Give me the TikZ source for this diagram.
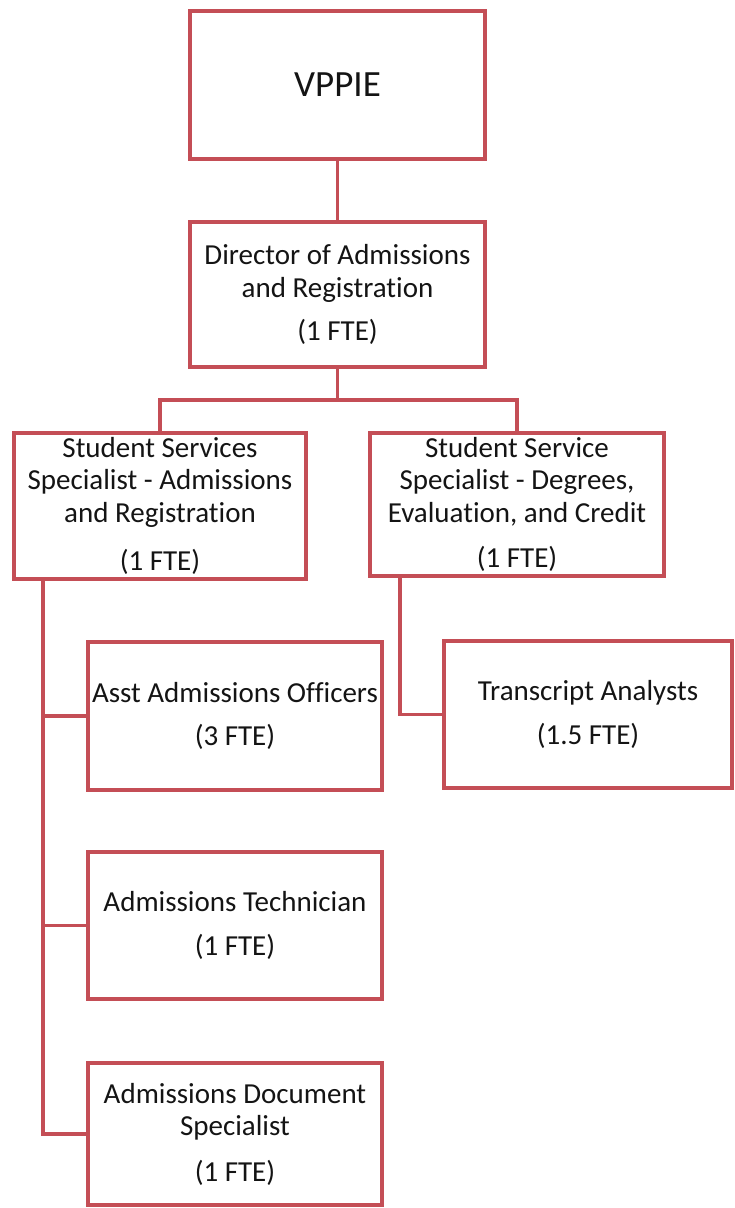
\documentclass[tikz,border=0pt]{standalone}
\usepackage{fontspec}
\setmainfont{Carlito}[Ligatures=NoCommon]
\definecolor{boxred}{RGB}{196,78,86}
\definecolor{txt}{RGB}{20,20,20}
\tikzset{
  orgbox/.style={draw=boxred, line width=3.5pt, rectangle, align=center, inner sep=0pt, outer sep=0pt, text=txt,
    font=\fontsize{29pt}{32.5pt}\selectfont},
  link/.style={draw=boxred, line width=3.5pt, line join=miter}
}
\begin{document}
\begin{tikzpicture}[x=1pt,y=-1pt]
\useasboundingbox (0,0) rectangle (735,1208);
\node[orgbox, minimum width=295pt, minimum height=148pt, font=\fontsize{37pt}{40pt}\selectfont] (vppie) at (337.5,85) {VPPIE};
\node[orgbox, minimum width=295pt, minimum height=145pt] (dir) at (337.5,294.5) {Director of Admissions\\and Registration\\[11pt](1 FTE)};
\node[orgbox, minimum width=292pt, minimum height=146pt] (ssa) at (160,506) {Student Services\\Specialist - Admissions\\and Registration\\[16pt](1 FTE)};
\node[orgbox, minimum width=294pt, minimum height=143pt] (ssd) at (517,504.5) {Student Service\\Specialist - Degrees,\\Evaluation, and Credit\\[13pt](1 FTE)};
\node[orgbox, minimum width=294pt, minimum height=148pt] (asst) at (235,716) {Asst Admissions Officers\\[11pt](3 FTE)};
\node[orgbox, minimum width=288pt, minimum height=147pt] (trans) at (588,714.5) {Transcript Analysts\\[12pt](1.5 FTE)};
\node[orgbox, minimum width=294pt, minimum height=147pt] (tech) at (235,925.5) {Admissions Technician\\[11pt](1 FTE)};
\node[orgbox, minimum width=294pt, minimum height=142pt] (doc) at (235,1134) {Admissions Document\\Specialist\\[13pt](1 FTE)};
\coordinate (trunk) at (43,0);
\coordinate (rtrunk) at (400,0);
\draw[link] (vppie.south) -- (dir.north);
\draw[link] (dir.south) -- ++(0,33) -| (ssa.north);
\draw[link] (dir.south) -- ++(0,33) -| (ssd.north);
\draw[link] (trunk |- ssa.south) |- (doc.west);
\draw[link] (trunk |- asst.west) -- (asst.west);
\draw[link] (trunk |- tech.west) -- (tech.west);
\draw[link] (rtrunk |- ssd.south) |- (trans.west);
\end{tikzpicture}
\end{document}
